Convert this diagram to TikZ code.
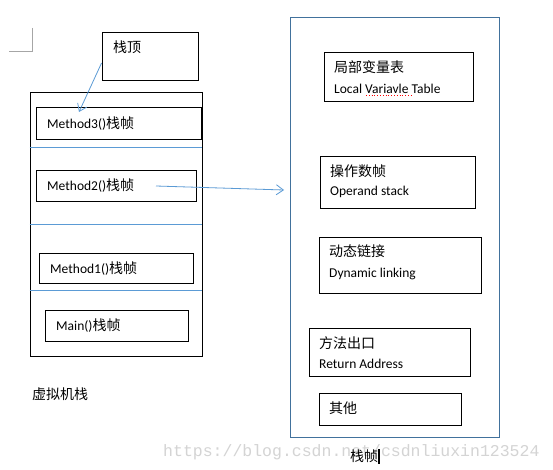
\documentclass[tikz,border=0pt]{standalone}
\usepackage{fontspec}
\setmainfont{Carlito}
\newfontfamily\cjk{Noto Sans CJK SC}
\newfontfamily\wmfont{Liberation Mono}
\newcommand\zhtext[1]{{\cjk\fontsize{14}{16}\selectfont #1}}
\usetikzlibrary{arrows.meta}
\definecolor{divblue}{HTML}{5B9BD5}
\definecolor{frameblue}{HTML}{41719C}
\definecolor{wmgray}{HTML}{D4D4D4}
\definecolor{markgray}{HTML}{A6A6A6}
\begin{document}
\begin{tikzpicture}[x=1pt,y=-1pt,
  box/.style={draw=black, line width=0.9pt, inner sep=0pt},
  frame/.style={draw=frameblue, line width=0.9pt, inner sep=0pt},
  txt/.style={anchor=west, inner sep=0pt, font=\fontsize{13.5}{16}\selectfont},
  zh/.style={anchor=west, inner sep=0pt, font=\cjk\fontsize{14}{16}\selectfont},
  divider/.style={draw=divblue, line width=0.9pt},
  arrowblue/.style={draw=divblue, line width=0.8pt, -{Straight Barb[length=7pt,width=10pt]}},
  wmtext/.style={anchor=base west, inner sep=0pt, text=wmgray, font=\wmfont\fontsize{16.5}{18}\selectfont}]
\useasboundingbox (0,0) rectangle (553,470);
\fill[white] (0,0) rectangle (553,470);

% watermark
\node[wmtext] (wm) at (163,456) {https://blog.csdn.net/csdnliuxin123524};

% page corner mark
\draw[markgray, line width=0.8pt] (32.5,28) -- (32.5,51) -- (9,51);

% left: stack top label box
\node[box, minimum width=96, minimum height=48] (top) at (150,56) {};
\node[zh] (t-top) at (113,47.5) {栈顶};

% left: virtual machine stack
\node[box, minimum width=172, minimum height=264] (stack) at (116,224) {};
\node[box, minimum width=165, minimum height=32] (m3) at (118.5,123) {};
\node[box, minimum width=160, minimum height=31] (m2) at (116,185.5) {};
\node[box, minimum width=154, minimum height=30] (m1) at (116,268) {};
\node[box, minimum width=143, minimum height=31] (mainf) at (116.5,325.5) {};
\node[txt] (t-m3) at (47,123.5) {Method3()\zhtext{栈帧}};
\node[txt] (t-m2) at (47,185.5) {Method2()\zhtext{栈帧}};
\node[txt] (t-m1) at (50,269) {Method1()\zhtext{栈帧}};
\node[txt] (t-main) at (56,325.5) {Main()\zhtext{栈帧}};
\draw[divider] (stack.west |- 0,147) -- (stack.east |- 0,147);
\draw[divider] (stack.west |- 0,224) -- (stack.east |- 0,224);
\draw[divider] (stack.west |- 0,290) -- (stack.east |- 0,290);
\node[zh] (t-vms) at (32,394.5) {虚拟机栈};

% right: stack frame
\node[frame, minimum width=209, minimum height=420] (frm) at (394.5,227) {};
\node[box, minimum width=149, minimum height=49] (lv) at (398.5,76.5) {};
\node[zh] (t-lv1) at (334,67.5) {局部变量表};
\node[txt] (t-lv2) at (334,88.5) {Local Variavle Table};
\draw[red, line width=0.8pt, dotted] (366,95.5) -- (411,95.5);
\node[box, minimum width=155, minimum height=52] (os) at (397.5,182) {};
\node[zh] (t-os1) at (330,171) {操作数帧};
\node[txt] (t-os2) at (330,192) {Operand stack};
\node[box, minimum width=162, minimum height=56] (dl) at (400,265) {};
\node[zh] (t-dl1) at (329,251.5) {动态链接};
\node[txt] (t-dl2) at (329,273.5) {Dynamic linking};
\node[box, minimum width=161, minimum height=48] (ra) at (389.5,352) {};
\node[zh] (t-ra1) at (319,343.5) {方法出口};
\node[txt] (t-ra2) at (319,364) {Return Address};
\node[box, minimum width=142, minimum height=32] (ot) at (390,409) {};
\node[zh] (t-ot) at (329,408.5) {其他};
\node[zh] (t-frm) at (350,456) {栈帧};
\draw[black, line width=1.6pt] (379,449) -- (379,464);

% connectors
\coordinate (a1e) at (79,112);
\draw[arrowblue] ([yshift=-7pt]top.west) -- (a1e);
\coordinate (a2s) at (156,186);
\coordinate (a2e) at (284,190);
\draw[arrowblue] (a2s) -- (a2e);
\end{tikzpicture}
\end{document}
